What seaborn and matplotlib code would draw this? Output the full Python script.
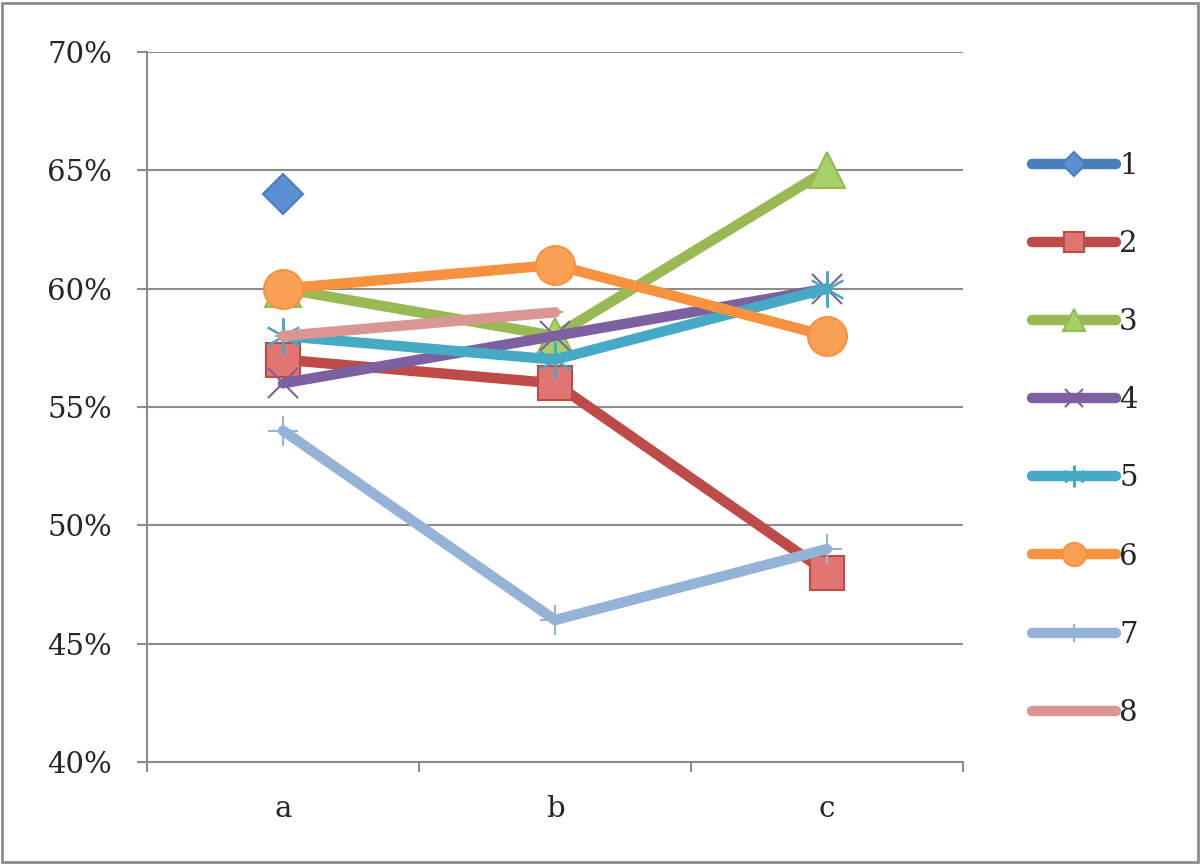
import pandas as pd
import seaborn as sns
import matplotlib.pyplot as plt
from matplotlib.patches import Rectangle
from matplotlib.ticker import FuncFormatter, FixedLocator

categories = ['a', 'b', 'c']
series_names = ['1', '2', '3', '4', '5', '6', '7', '8']

s1 = [64, None, None]
s2 = [57, 56, 48]
s3 = [60, 58, 65]
s4 = [56, 58, 60]
s5 = [58, 57, 60]
s6 = [60, 61, 58]
s7 = [54, 46, 49]
s8 = [58, 59, None]

values = [s1, s2, s3, s4, s5, s6, s7, s8]
colors = ['#4A7EBB', '#BE4B48', '#98B954', '#7D60A0', '#46AAC5', '#F69240', '#95B3D7', '#D99694']
faces = ['#5B8FD4', '#E07573', '#A8D06A', '#7D60A0', '#46AAC5', '#F9A055', '#95B3D7', '#F0B0AE']
markers = ['D', 's', '^', 'x', (6, 2, 0), 'o', '+', '_']
msizes = [20, 24, 26, 22, 26, 28, 22, 12]

rows = []
for name, vals in zip(series_names, values):
    for cat, v in zip(categories, vals):
        if v is not None:
            rows.append({'cat': cat, 'val': v, 'series': name})
df = pd.DataFrame(rows)

sns.set_style('white')
plt.rcParams['font.family'] = ['DejaVu Serif']
plt.rcParams['lines.solid_capstyle'] = 'round'
plt.rcParams['lines.solid_joinstyle'] = 'round'

fig = plt.figure(figsize=(12, 8.65), dpi=100)
ax = fig.add_axes([0.1225, 0.119, 0.68, 0.821])

for i, name in enumerate(series_names):
    d = df[df['series'] == name]
    sns.lineplot(data=d, x='cat', y='val', ax=ax, color=colors[i], lw=7.5,
                 marker=markers[i], markersize=msizes[i],
                 markerfacecolor=faces[i], markeredgecolor=colors[i],
                 markeredgewidth=1.5,
                 label=name, sort=False)

ax.set_xlim(-0.5, 2.5)
ax.set_ylim(40, 70)
ax.set_yticks([40, 45, 50, 55, 60, 65, 70])
ax.yaxis.set_major_formatter(FuncFormatter(lambda v, p: '%d%%' % v))
ax.grid(axis='y', color='#8c8c8c', lw=1.5)
ax.set_axisbelow(True)
for sp in ['top', 'right']:
    ax.spines[sp].set_visible(False)
for sp in ['left', 'bottom']:
    ax.spines[sp].set_color('#8c8c8c')
    ax.spines[sp].set_linewidth(1.5)
ax.xaxis.set_minor_locator(FixedLocator([-0.5, 0.5, 1.5, 2.5]))
ax.tick_params(axis='x', which='both', bottom=True)
ax.tick_params(axis='x', which='major', length=0, pad=24, labelsize=21)
ax.tick_params(axis='x', which='minor', length=7, width=1.5, color='#8c8c8c', direction='out')
ax.tick_params(axis='y', left=True, length=7, width=1.5, color='#8c8c8c', direction='out', pad=18, labelsize=21)
ax.set_xlabel('')
ax.set_ylabel('')

ax.legend(loc='upper left', bbox_to_anchor=(0.85, 0.838), bbox_transform=fig.transFigure,
          frameon=False, fontsize=21, handlelength=2.9, handletextpad=0.1,
          labelspacing=1.72, borderaxespad=0, markerscale=0.6)

fig.add_artist(Rectangle((0.002, 0.003), 0.996, 0.994, transform=fig.transFigure,
                         fill=False, edgecolor='#8c8c8c', lw=2))

fig.savefig('out.png', dpi=100, facecolor='white')
